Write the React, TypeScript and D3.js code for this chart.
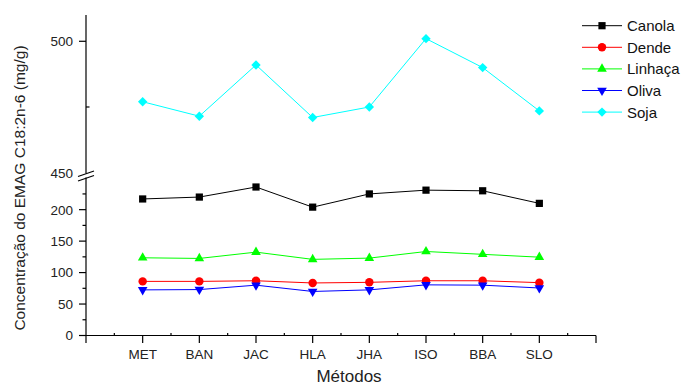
import * as d3 from 'd3';

const categories = ['MET', 'BAN', 'JAC', 'HLA', 'JHA', 'ISO', 'BBA', 'SLO'];
const canola = [217, 220, 236, 204, 225, 231, 230, 210];
const dende = [86, 86, 87, 83.5, 84.5, 87, 87, 84];
const linhaca = [123.5, 122.5, 132.5, 121, 123, 133.5, 129, 124.5];
const oliva = [72.5, 73, 80, 70, 72.5, 80.5, 80, 75.5];
const soja = [477, 471.5, 491, 471, 475, 501, 490, 473.5];

const lowTicks = [0, 50, 100, 150, 200];
const lowMinor = [25, 75, 125, 175, 225];
const highTicks = [450, 500];
const highMinor = [475];

const W = 681;
const H = 387;
const FONT = "'Liberation Sans', Arial, sans-serif";

const x = d3.scaleLinear().domain([0, 9]).range([86, 596]);
const yLow = d3.scaleLinear().domain([0, 250]).range([335.5, 178.2]);
const yHigh = d3.scaleLinear().domain([450, 510]).range([172.7, 15]);
const y = (v: number) => (v >= 450 ? yHigh(v) : yLow(v));

const series = [
  { name: 'Canola', values: canola, color: '#000000', symbol: d3.symbolSquare, size: 52, rot: 0 },
  { name: 'Dende', values: dende, color: '#ff0000', symbol: d3.symbolCircle, size: 56, rot: 0 },
  { name: 'Linhaça', values: linhaca, color: '#00ff00', symbol: d3.symbolTriangle, size: 40, rot: 0 },
  { name: 'Oliva', values: oliva, color: '#0000ff', symbol: d3.symbolTriangle, size: 40, rot: 180 },
  { name: 'Soja', values: soja, color: '#00ffff', symbol: d3.symbolSquare, size: 44, rot: 45 },
];

function Marker({ s, cx, cy }: { s: (typeof series)[number]; cx: number; cy: number }) {
  const path = d3.symbol().type(s.symbol).size(s.size)()!;
  return (
    <path d={path} fill={s.color} transform={`translate(${cx},${cy}) rotate(${s.rot})`} />
  );
}

export default function App() {
  const line = d3
    .line<number>()
    .x((_, i) => x(i + 1))
    .y(d => y(d));

  const majorX = d3.range(0, 10);
  const minorX = d3.range(0.5, 9, 1);
  const axisX0 = x(0);
  const axisY0 = yLow(0);

  return (
    <svg
      width={W}
      height={H}
      style={{ position: 'absolute', left: 0, top: 0, background: '#fff' }}
      fontFamily={FONT}
    >
      {/* series lines and markers */}
      {series.map(s => (
        <g key={s.name}>
          <path d={line(s.values)!} fill="none" stroke={s.color} strokeWidth={1} />
          {s.values.map((v, i) => (
            <Marker key={i} s={s} cx={x(i + 1)} cy={y(v)} />
          ))}
        </g>
      ))}

      {/* y axis, broken */}
      <g stroke="#000" strokeWidth={1.2}>
        <line x1={axisX0} x2={axisX0} y1={yHigh(510)} y2={173.5} />
        <line x1={axisX0} x2={axisX0} y1={177.5} y2={axisY0} />
        <line x1={78} x2={94} y1={176.5} y2={171} />
        <line x1={78} x2={94} y1={181} y2={175.5} />
        {lowTicks.map(t => (
          <line key={t} x1={axisX0 - 7} x2={axisX0} y1={yLow(t)} y2={yLow(t)} />
        ))}
        {highTicks.slice(1).map(t => (
          <line key={t} x1={axisX0 - 7} x2={axisX0} y1={yHigh(t)} y2={yHigh(t)} />
        ))}
        {lowMinor.map(t => (
          <line key={t} x1={axisX0 - 3.5} x2={axisX0} y1={yLow(t)} y2={yLow(t)} />
        ))}
        {highMinor.map(t => (
          <line key={t} x1={axisX0} x2={axisX0 + 3.5} y1={yHigh(t)} y2={yHigh(t)} />
        ))}
      </g>
      <g fontSize={13.5} fill="#222" textAnchor="end">
        {lowTicks.map(t => (
          <text key={t} x={73} y={yLow(t)} dy="0.36em">
            {t}
          </text>
        ))}
        {highTicks.map(t => (
          <text key={t} x={73} y={yHigh(t)} dy="0.36em">
            {t}
          </text>
        ))}
      </g>

      {/* x axis */}
      <g stroke="#000" strokeWidth={1.2}>
        <line x1={axisX0} x2={x(9)} y1={axisY0} y2={axisY0} />
        {majorX.map(t => (
          <line key={t} x1={x(t)} x2={x(t)} y1={axisY0} y2={axisY0 + 7.5} />
        ))}
        {minorX.map(t => (
          <line key={t} x1={x(t)} x2={x(t)} y1={axisY0 - 2.5} y2={axisY0} />
        ))}
      </g>
      <g fontSize={13.5} fill="#222" textAnchor="middle">
        {categories.map((c, i) => (
          <text key={c} x={x(i + 1)} y={359}>
            {c}
          </text>
        ))}
      </g>

      {/* titles */}
      <text x={349} y={382} fontSize={17} textAnchor="middle" fill="#222">
        Métodos
      </text>
      <text
        transform="translate(25,188) rotate(-90)"
        fontSize={15.5}
        textAnchor="middle"
        fill="#222"
      >
        Concentração do EMAG C18:2n-6 (mg/g)
      </text>

      {/* legend */}
      {series.map((s, i) => {
        const ly = 25.7 + i * 21.6;
        return (
          <g key={s.name}>
            <line x1={582} x2={622} y1={ly} y2={ly} stroke={s.color} strokeWidth={1} />
            <Marker s={s} cx={602} cy={ly} />
            <text x={627} y={ly} dy="0.36em" fontSize={15} fill="#111">
              {s.name}
            </text>
          </g>
        );
      })}
    </svg>
  );
}
